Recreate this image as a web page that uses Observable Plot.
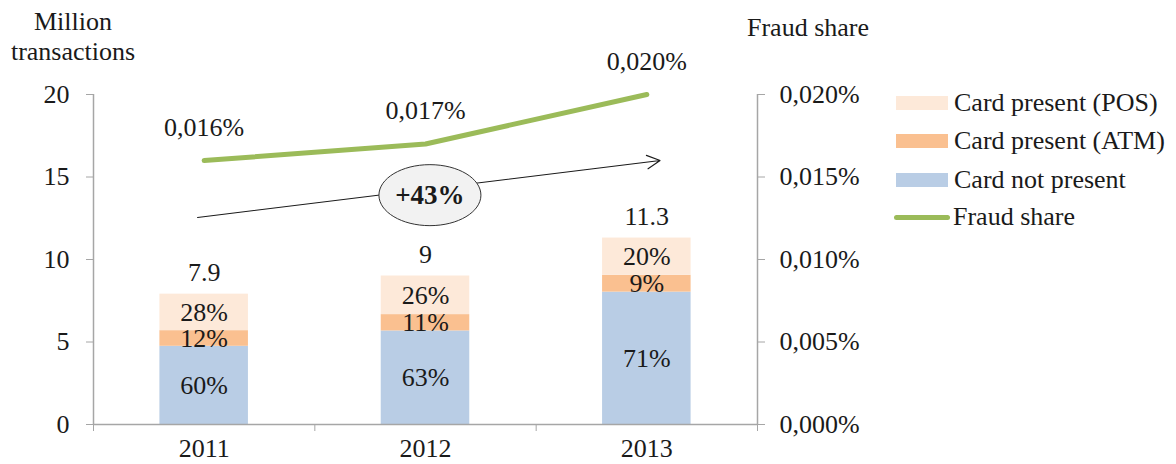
<!DOCTYPE html>
<html>
<head>
<meta charset="utf-8">
<script src="https://cdn.jsdelivr.net/npm/d3@7"></script>
<script src="https://cdn.jsdelivr.net/npm/@observablehq/plot@0.6"></script>
<style>
  body { margin: 0; background: #fff; }
  #wrap { position: relative; width: 1176px; height: 464px; font-family: "Liberation Serif", "Times New Roman", serif; color: #1a1a1a; }
  #wrap svg { position: absolute; left: 0; top: 0; }
  .ttl { position: absolute; font-size: 26px; line-height: 30px; text-align: center; white-space: nowrap; }
  .leg { position: absolute; left: 896px; font-size: 26px; line-height: 30px; display: flex; align-items: center; white-space: nowrap; }
  .sw { width: 52px; height: 14px; margin-right: 6px; }
  .ln { width: 56px; height: 5px; border-radius: 3px; margin-right: 3px; margin-left: -2px; }
</style>
</head>
<body>
<div id="wrap"></div>
<script>
// ---- data ----
const years = [2011, 2012, 2013];
const totals = [7.9, 9, 11.3];
const cnpPct = [60, 63, 71];
const atmPct = [12, 11, 9];
const posPct = [28, 26, 20];
const fraudShare = [0.016, 0.017, 0.020]; // percent
const segmentNames = ["Card not present", "Card present (ATM)", "Card present (POS)"];
const segmentColors = ["#B9CDE5", "#FAC090", "#FDE9D9"];
const fraudColor = "#9BBB59";
const leftTicks = [0, 5, 10, 15, 20];
const growthLabel = "+43%";
const arrowFrom = [2010.97, 12.55];
const arrowTo = [2013.06, 16.0];
const bubbleAt = [2012.02, 13.9];

// ---- build tables ----
const pcts = [cnpPct, atmPct, posPct];
const rows = [];
years.forEach((yr, i) => {
  let base = 0;
  pcts.forEach((p, s) => {
    const v = totals[i] * p[i] / 100;
    rows.push({year: yr, segment: segmentNames[s], pct: p[i], y1: base, y2: base + v, mid: base + v / 2});
    base += v;
  });
});
const totalRows = years.map((yr, i) => ({year: yr, total: totals[i]}));
const fraudScale = 1000; // 0.020% -> 20 on the left scale
const fraudRows = years.map((yr, i) => ({year: yr, share: fraudShare[i], y: fraudShare[i] * fraudScale}));
const fmtShare = v => (v).toFixed(3).replace(".", ",") + "%";

const gray = "#a6a6a6";
const ink = "#1a1a1a";
const FS = 26;

const ellipseSymbol = {
  draw(context) {
    const rx = 51, ry = 30.5, k = 0.5523;
    context.moveTo(rx, 0);
    context.bezierCurveTo(rx, ry * k, rx * k, ry, 0, ry);
    context.bezierCurveTo(-rx * k, ry, -rx, ry * k, -rx, 0);
    context.bezierCurveTo(-rx, -ry * k, -rx * k, -ry, 0, -ry);
    context.bezierCurveTo(rx * k, -ry, rx, -ry * k, rx, 0);
    context.closePath();
  }
};

const plot = Plot.plot({
  width: 1176,
  height: 464,
  marginLeft: 93,
  marginRight: 419,
  marginTop: 94,
  marginBottom: 40,
  style: {fontFamily: "'Liberation Serif', 'Times New Roman', serif", fontSize: FS + "px", color: ink, background: "transparent", overflow: "visible"},
  x: {domain: [2010.5, 2013.5]},
  y: {domain: [0, 20]},
  marks: [
    // bars
    Plot.rect(rows, {
      x1: d => d.year - 0.2, x2: d => d.year + 0.2, y1: "y1", y2: "y2",
      fill: d => segmentColors[segmentNames.indexOf(d.segment)]
    }),
    // axis lines
    Plot.ruleX([2010.5, 2013.5], {y1: 0, y2: 20, stroke: gray, strokeWidth: 1.5}),
    Plot.ruleY([0], {x1: 2010.5, x2: 2013.5, stroke: gray, strokeWidth: 1.5}),
    // left axis
    Plot.axisY(leftTicks, {anchor: "left", tickSize: 7, tickPadding: 17, stroke: gray, fill: ink, label: null, fontSize: FS}),
    // right axis (fraud share)
    Plot.axisY(leftTicks, {anchor: "right", tickSize: 7, tickPadding: 15, stroke: gray, fill: ink, label: null, fontSize: FS,
      tickFormat: d => fmtShare(d / fraudScale)}),
    // bottom axis: boundary ticks and year labels
    Plot.axisX([2010.5, 2011.5, 2012.5, 2013.5], {anchor: "bottom", tickSize: 7, stroke: gray, tickFormat: () => "", label: null}),
    Plot.axisX(years, {anchor: "bottom", tickSize: 0, tickPadding: 14, fill: ink, tickFormat: d => String(d), label: null, fontSize: FS}),
    // segment labels
    Plot.text(rows, {x: "year", y: "mid", text: d => d.pct + "%", fill: ink, fontSize: FS}),
    // totals
    Plot.text(totalRows, {x: "year", y: "total", text: d => String(d.total), dy: -21, fill: ink, fontSize: FS}),
    // fraud share line
    Plot.line(fraudRows, {x: "year", y: "y", stroke: fraudColor, strokeWidth: 5, strokeLinecap: "round"}),
    Plot.text(fraudRows, {x: "year", y: "y", text: d => fmtShare(d.share), dy: -33, fill: ink, fontSize: FS}),
    // growth arrow with bubble
    Plot.arrow([{x1: arrowFrom[0], y1: arrowFrom[1], x2: arrowTo[0], y2: arrowTo[1]}],
      {x1: "x1", y1: "y1", x2: "x2", y2: "y2", stroke: ink, strokeWidth: 1.1, headLength: 20, headAngle: 55}),
    Plot.dot([{x: bubbleAt[0], y: bubbleAt[1]}], {x: "x", y: "y", symbol: ellipseSymbol, r: 30, fill: "#f2f2f2", stroke: "#333", strokeWidth: 1}),
    Plot.text([{x: bubbleAt[0], y: bubbleAt[1], t: growthLabel}], {x: "x", y: "y", text: "t", fontWeight: "bold", fontSize: 27, fill: ink})
  ]
});

const wrap = document.getElementById("wrap");
wrap.appendChild(plot);

// titles
const t1 = document.createElement("div");
t1.className = "ttl";
t1.style.left = "0px"; t1.style.top = "7px"; t1.style.width = "146px";
t1.innerHTML = "Million<br>transactions";
wrap.appendChild(t1);
const t2 = document.createElement("div");
t2.className = "ttl";
t2.style.left = "738px"; t2.style.top = "13px"; t2.style.width = "140px";
t2.textContent = "Fraud share";
wrap.appendChild(t2);

// legend
const legendItems = [
  {name: segmentNames[2], color: segmentColors[2], kind: "sw"},
  {name: segmentNames[1], color: segmentColors[1], kind: "sw"},
  {name: segmentNames[0], color: segmentColors[0], kind: "sw"},
  {name: "Fraud share", color: fraudColor, kind: "ln"}
];
const legendCenter = [103, 141, 180, 217];
legendItems.forEach((it, i) => {
  const row = document.createElement("div");
  row.className = "leg";
  row.style.top = (legendCenter[i] - 15) + "px";
  const sw = document.createElement("span");
  sw.className = it.kind;
  sw.style.background = it.color;
  row.appendChild(sw);
  const tx = document.createElement("span");
  tx.textContent = it.name;
  row.appendChild(tx);
  wrap.appendChild(row);
});
</script>
</body>
</html>
